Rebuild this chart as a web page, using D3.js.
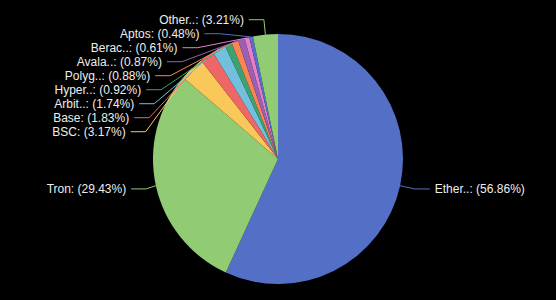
<!DOCTYPE html>
<html>
<head>
<meta charset="utf-8">
<script src="https://cdn.jsdelivr.net/npm/d3@7"></script>
<style>
  html, body { margin: 0; padding: 0; background: #000; }
  svg { display: block; }
</style>
</head>
<body>
<svg id="chart"></svg>
<script>
const names = ["Ether..", "Tron", "BSC", "Base", "Arbit..", "Hyper..", "Polyg..", "Avala..", "Berac..", "Aptos", "Other.."];
const shares = [56.86, 29.43, 3.17, 1.83, 1.74, 0.92, 0.88, 0.87, 0.61, 0.48, 3.21];
const palette = ["#5470c6", "#91cc75", "#fac858", "#ee6666", "#73c0de", "#3ba272", "#fc8452", "#9a60b4", "#ea7ccc"];

const WIDTH = 556;
const HEIGHT = 300;
const cx = 278, cy = 159, r = 125;
const len1 = 15, len2 = 15, gap = 5, lineH = 14;

const svg = d3.select("#chart").attr("width", WIDTH).attr("height", HEIGHT);
const data = names.map((n, i) => ({ name: n, value: shares[i] }));
const color = d3.scaleOrdinal().domain(d3.range(names.length)).range(palette);

const pie = d3.pie().sort(null).value(d => d.value);
const arcs = pie(data);
const arc = d3.arc().innerRadius(0).outerRadius(r);

const g = svg.append("g").attr("transform", `translate(${cx},${cy})`);
g.selectAll("path.slice")
  .data(arcs)
  .enter()
  .append("path")
  .attr("class", "slice")
  .attr("d", arc)
  .attr("fill", (d, i) => color(i));

// label layout, roughly how echarts does it for outer labels
const labels = arcs.map((d, i) => {
  const a = (d.startAngle + d.endAngle) / 2;
  const sx = Math.sin(a), sy = -Math.cos(a);
  const dir = sx < 0 ? -1 : 1;
  const x0 = cx + r * sx, y0 = cy + r * sy;
  const x1 = cx + (r + len1) * sx, y1 = cy + (r + len1) * sy;
  const x2 = x1 + dir * len2;
  return { i, dir, p0: [x0, y0], p1: [x1, y1], p2: [x2, y1], x: x2 + dir * gap, y: y1,
           text: `${d.data.name}: (${d.data.value.toFixed(2)}%)` };
});

function layoutSide(list, dir) {
  list.sort((a, b) => a.y - b.y);
  let moved = false;
  for (let k = 1; k < list.length; k++) {
    if (list[k].y < list[k - 1].y + lineH) {
      list[k].y = list[k - 1].y + lineH;
      moved = true;
    }
  }
  if (!moved) return;
  const rA = r + len1;
  [list.filter(l => l.y <= cy), list.filter(l => l.y > cy)].forEach(semi => {
    if (!semi.length) return;
    let maxY = -1, rB = rA;
    semi.forEach(l => {
      const dy = Math.abs(l.y - cy);
      if (dy >= maxY) {
        const dx = l.x - cx - len2 * dir;
        rB = Math.abs(dx) < rA ? Math.sqrt(dy * dy / (1 - dx * dx / rA / rA)) : rA;
        maxY = dy;
      }
    });
    semi.forEach(l => {
      const dy = Math.abs(l.y - cy);
      const dx = Math.sqrt(Math.max(0, 1 - dy * dy / (rB * rB)) * rA * rA);
      l.x = cx + (dx + len2) * dir;
    });
  });
  list.forEach(l => {
    l.p2 = [l.x - dir * gap, l.y];
    l.p1 = [l.p2[0] - dir * len2, l.y];
  });
}

layoutSide(labels.filter(l => l.dir < 0), -1);
layoutSide(labels.filter(l => l.dir > 0), 1);

svg.append("g").selectAll("polyline")
  .data(labels)
  .enter()
  .append("polyline")
  .attr("points", d => [d.p0, d.p1, d.p2].map(p => p.join(",")).join(" "))
  .attr("fill", "none")
  .attr("stroke", d => color(d.i))
  .attr("stroke-width", 1);

svg.append("g").selectAll("text")
  .data(labels)
  .enter()
  .append("text")
  .attr("x", d => d.x)
  .attr("y", d => d.y)
  .attr("text-anchor", d => d.dir < 0 ? "end" : "start")
  .attr("dominant-baseline", "central")
  .attr("font-family", "'Liberation Sans', Arial, sans-serif")
  .attr("font-size", 12)
  .attr("fill", "#eee")
  .text(d => d.text);
</script>
</body>
</html>
